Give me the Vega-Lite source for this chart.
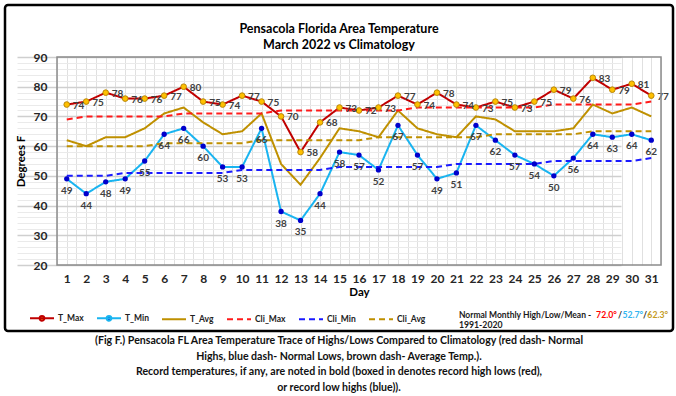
{
  "$schema": "https://vega.github.io/schema/vega-lite/v6.json",
  "padding": {"left": 3, "top": 3, "right": 0, "bottom": 0},
  "background": "white",
  "title": {
    "text": [
      "(Fig F.) Pensacola FL Area Temperature Trace of Highs/Lows Compared to Climatology (red dash- Normal",
      "Highs, blue dash- Normal Lows, brown dash- Average Temp.).",
      "Record temperatures, if any, are noted in bold (boxed in denotes record high lows (red),",
      "or record low highs (blue))."
    ],
    "orient": "bottom",
    "anchor": "middle",
    "font": "Lato",
    "fontSize": 10.6,
    "fontWeight": "bold",
    "lineHeight": 15.5,
    "offset": 4,
    "color": "#111111"
  },
  "datasets": {
    "temps": [
      {"day": 1, "T_Max": 74, "T_Min": 49, "T_Avg": 62, "Cli_Max": 69, "Cli_Min": 50, "Cli_Avg": 60},
      {"day": 2, "T_Max": 75, "T_Min": 44, "T_Avg": 60, "Cli_Max": 70, "Cli_Min": 50, "Cli_Avg": 60},
      {"day": 3, "T_Max": 78, "T_Min": 48, "T_Avg": 63, "Cli_Max": 70, "Cli_Min": 50, "Cli_Avg": 60},
      {"day": 4, "T_Max": 76, "T_Min": 49, "T_Avg": 63, "Cli_Max": 70, "Cli_Min": 51, "Cli_Avg": 60},
      {"day": 5, "T_Max": 76, "T_Min": 55, "T_Avg": 66, "Cli_Max": 70, "Cli_Min": 51, "Cli_Avg": 60},
      {"day": 6, "T_Max": 77, "T_Min": 64, "T_Avg": 71, "Cli_Max": 70, "Cli_Min": 51, "Cli_Avg": 61},
      {"day": 7, "T_Max": 80, "T_Min": 66, "T_Avg": 73, "Cli_Max": 71, "Cli_Min": 51, "Cli_Avg": 61},
      {"day": 8, "T_Max": 75, "T_Min": 60, "T_Avg": 68, "Cli_Max": 71, "Cli_Min": 51, "Cli_Avg": 61},
      {"day": 9, "T_Max": 74, "T_Min": 53, "T_Avg": 64, "Cli_Max": 71, "Cli_Min": 51, "Cli_Avg": 61},
      {"day": 10, "T_Max": 77, "T_Min": 53, "T_Avg": 65, "Cli_Max": 71, "Cli_Min": 52, "Cli_Avg": 61},
      {"day": 11, "T_Max": 75, "T_Min": 66, "T_Avg": 71, "Cli_Max": 71, "Cli_Min": 52, "Cli_Avg": 62},
      {"day": 12, "T_Max": 70, "T_Min": 38, "T_Avg": 54, "Cli_Max": 72, "Cli_Min": 52, "Cli_Avg": 62},
      {"day": 13, "T_Max": 58, "T_Min": 35, "T_Avg": 47, "Cli_Max": 72, "Cli_Min": 52, "Cli_Avg": 62},
      {"day": 14, "T_Max": 68, "T_Min": 44, "T_Avg": 56, "Cli_Max": 72, "Cli_Min": 52, "Cli_Avg": 62},
      {"day": 15, "T_Max": 73, "T_Min": 58, "T_Avg": 66, "Cli_Max": 72, "Cli_Min": 53, "Cli_Avg": 62},
      {"day": 16, "T_Max": 72, "T_Min": 57, "T_Avg": 65, "Cli_Max": 72, "Cli_Min": 53, "Cli_Avg": 62},
      {"day": 17, "T_Max": 73, "T_Min": 52, "T_Avg": 63, "Cli_Max": 72, "Cli_Min": 53, "Cli_Avg": 63},
      {"day": 18, "T_Max": 77, "T_Min": 67, "T_Avg": 72, "Cli_Max": 72, "Cli_Min": 53, "Cli_Avg": 63},
      {"day": 19, "T_Max": 74, "T_Min": 57, "T_Avg": 66, "Cli_Max": 73, "Cli_Min": 53, "Cli_Avg": 63},
      {"day": 20, "T_Max": 78, "T_Min": 49, "T_Avg": 64, "Cli_Max": 73, "Cli_Min": 53, "Cli_Avg": 63},
      {"day": 21, "T_Max": 74, "T_Min": 51, "T_Avg": 63, "Cli_Max": 73, "Cli_Min": 54, "Cli_Avg": 63},
      {"day": 22, "T_Max": 73, "T_Min": 67, "T_Avg": 70, "Cli_Max": 73, "Cli_Min": 54, "Cli_Avg": 63},
      {"day": 23, "T_Max": 75, "T_Min": 62, "T_Avg": 69, "Cli_Max": 73, "Cli_Min": 54, "Cli_Avg": 64},
      {"day": 24, "T_Max": 73, "T_Min": 57, "T_Avg": 65, "Cli_Max": 73, "Cli_Min": 54, "Cli_Avg": 64},
      {"day": 25, "T_Max": 75, "T_Min": 54, "T_Avg": 65, "Cli_Max": 73, "Cli_Min": 54, "Cli_Avg": 64},
      {"day": 26, "T_Max": 79, "T_Min": 50, "T_Avg": 65, "Cli_Max": 74, "Cli_Min": 55, "Cli_Avg": 64},
      {"day": 27, "T_Max": 76, "T_Min": 56, "T_Avg": 66, "Cli_Max": 74, "Cli_Min": 55, "Cli_Avg": 64},
      {"day": 28, "T_Max": 83, "T_Min": 64, "T_Avg": 74, "Cli_Max": 74, "Cli_Min": 55, "Cli_Avg": 65},
      {"day": 29, "T_Max": 79, "T_Min": 63, "T_Avg": 71, "Cli_Max": 74, "Cli_Min": 55, "Cli_Avg": 65},
      {"day": 30, "T_Max": 81, "T_Min": 64, "T_Avg": 73, "Cli_Max": 74, "Cli_Min": 55, "Cli_Avg": 65},
      {"day": 31, "T_Max": 77, "T_Min": 62, "T_Avg": 70, "Cli_Max": 75, "Cli_Min": 56, "Cli_Avg": 65}
    ]
  },
  "vconcat": [
    {
      "width": 668,
      "height": 326,
      "title": {
        "text": ["Pensacola Florida Area Temperature", "March 2022 vs Climatology"],
        "orient": "top",
        "anchor": "middle",
        "frame": "group",
        "offset": -46,
        "font": "Lato",
        "fontSize": 12.5,
        "fontWeight": "bold",
        "lineHeight": 15.5,
        "color": "#000000"
      },
      "resolve": {"axis": {"x": "independent", "y": "independent"}},
      "layer": [
        {
          "data": {"name": "temps"},
          "mark": {"type": "point", "opacity": 0},
          "encoding": {
            "x": {
              "field": "day", "type": "quantitative",
              "scale": {"domain": [0.5, 31.5], "range": [52, 656], "nice": false, "zero": false},
              "axis": {
                "orient": "top",
                "values": [0.5,1,1.5,2,2.5,3,3.5,4,4.5,5,5.5,6,6.5,7,7.5,8,8.5,9,9.5,10,10.5,11,11.5,12,12.5,13,13.5,14,14.5,15,15.5,16,16.5,17,17.5,18,18.5,19,19.5,20,20.5,21,21.5,22,22.5,23,23.5,24,24.5,25,25.5,26,26.5,27,27.5,28,28.5,29,29.5,30,30.5,31,31.5],
                "labels": false, "domain": false, "ticks": false, "title": null,
                "grid": true, "gridColor": "#e0e0e0", "gridWidth": 1
              }
            },
            "y": {
              "field": "T_Max", "type": "quantitative",
              "scale": {"domain": [20, 90], "range": [260, 52], "nice": false, "zero": false},
              "axis": {
                "orient": "right",
                "values": [20,22,24,26,28,30,32,34,36,38,40,42,44,46,48,50,52,54,56,58,60,62,64,66,68,70,72,74,76,78,80,82,84,86,88,90],
                "labels": false, "domain": false, "ticks": false, "title": null,
                "grid": true,
                "gridColor": {"condition": {"test": "datum.value % 10 === 0", "value": "#cfcfcf"}, "value": "#eaeaea"},
                "gridWidth": {"condition": {"test": "datum.value % 10 === 0", "value": 1.5}, "value": 1}
              }
            }
          }
        },
        {
          "data": {"name": "temps"},
          "transform": [{"fold": ["T_Max", "T_Min", "T_Avg", "Cli_Max", "Cli_Min", "Cli_Avg"], "as": ["series", "temp"]}],
          "mark": {"type": "line", "strokeWidth": 2},
          "encoding": {
            "x": {
              "field": "day", "type": "quantitative",
              "scale": {"domain": [0.5, 31.5], "range": [52, 656], "nice": false, "zero": false},
              "axis": {
                "orient": "bottom", "offset": -66,
                "values": [1,2,3,4,5,6,7,8,9,10,11,12,13,14,15,16,17,18,19,20,21,22,23,24,25,26,27,28,29,30,31],
                "format": "d",
                "labelOverlap": false, "labelFlush": false, "labelBound": false,
                "domain": false, "ticks": false, "tickSize": 0, "grid": false,
                "labelPadding": 8,
                "labelFont": "Lato", "labelFontSize": 12, "labelFontWeight": "bold", "labelColor": "#262626",
                "title": "Day", "titleFont": "Lato", "titleFontSize": 11.5, "titleFontWeight": "bold", "titleColor": "#000000", "titlePadding": 2
              }
            },
            "y": {
              "field": "temp", "type": "quantitative",
              "scale": {"domain": [20, 90], "range": [260, 52], "nice": false, "zero": false},
              "axis": {
                "orient": "left", "offset": -52,
                "values": [20,30,40,50,60,70,80,90],
                "labelOverlap": false, "labelFlush": false, "labelBound": false,
                "domain": false, "ticks": false, "tickSize": 0, "grid": false,
                "labelPadding": 10,
                "labelFont": "Lato", "labelFontSize": 12, "labelFontWeight": "bold", "labelColor": "#262626",
                "title": "Degrees F", "titleFont": "Lato", "titleFontSize": 11.5, "titleFontWeight": "bold", "titleColor": "#000000", "titlePadding": 7
              }
            },
            "color": {
              "field": "series", "type": "nominal",
              "scale": {"domain": ["T_Max", "T_Min", "T_Avg", "Cli_Max", "Cli_Min", "Cli_Avg"], "range": ["#C00000", "#19B4F0", "#BF9000", "#FF1A1A", "#1A1AFF", "#BF9000"]},
              "legend": {
                "title": null, "orient": "none", "legendX": 24, "legendY": 300,
                "direction": "horizontal", "columns": 6, "columnPadding": 9,
                "symbolType": "stroke", "symbolSize": 576, "symbolStrokeWidth": 2,
                "labelFont": "Lato", "labelFontSize": 8.5, "labelFontWeight": "bold", "labelColor": "#222222", "labelOffset": 3,
                "padding": 0,
                "encode": {
                  "symbols": {
                    "update": {
                      "shape": {"signal": "datum.value === 'T_Max' || datum.value === 'T_Min' ? 'M-1,0L1,0M0.2,0A0.2,0.2,0,1,1,-0.2,0A0.2,0.2,0,1,1,0.2,0Z' : 'stroke'"},
                      "fill": {"signal": "datum.value === 'T_Max' ? '#FFC000' : datum.value === 'T_Min' ? '#0000CC' : 'transparent'"}
                    }
                  }
                }
              }
            },
            "strokeDash": {
              "field": "series", "type": "nominal",
              "scale": {"domain": ["T_Max", "T_Min", "T_Avg", "Cli_Max", "Cli_Min", "Cli_Avg"], "range": [[1, 0], [1, 0], [1, 0], [6, 4], [6, 4], [6, 4]]},
              "legend": {
                "title": null, "orient": "none", "legendX": 24, "legendY": 300,
                "direction": "horizontal", "columns": 6, "columnPadding": 9,
                "symbolType": "stroke", "symbolSize": 576, "symbolStrokeWidth": 2,
                "labelFont": "Lato", "labelFontSize": 8.5, "labelFontWeight": "bold", "labelColor": "#222222", "labelOffset": 3,
                "padding": 0
              }
            }
          }
        },
        {
          "data": {"name": "temps"},
          "mark": {"type": "point", "filled": true, "fill": "#FFC000", "stroke": "#B8860B", "strokeWidth": 1, "size": 32, "opacity": 1},
          "encoding": {
            "x": {"field": "day", "type": "quantitative", "axis": null},
            "y": {"field": "T_Max", "type": "quantitative", "axis": null}
          }
        },
        {
          "data": {"name": "temps"},
          "mark": {"type": "circle", "color": "#0000CC", "size": 28, "opacity": 1},
          "encoding": {
            "x": {"field": "day", "type": "quantitative", "axis": null},
            "y": {"field": "T_Min", "type": "quantitative", "axis": null}
          }
        },
        {
          "data": {"name": "temps"},
          "mark": {"type": "text", "align": "left", "baseline": "middle", "dx": 6, "dy": 1, "font": "Lato", "fontSize": 10, "fontWeight": "bold", "color": "#404040"},
          "encoding": {
            "x": {"field": "day", "type": "quantitative", "axis": null},
            "y": {"field": "T_Max", "type": "quantitative", "axis": null},
            "text": {"field": "T_Max", "type": "quantitative"}
          }
        },
        {
          "data": {"name": "temps"},
          "mark": {"type": "text", "align": "center", "baseline": "middle", "dy": 12, "font": "Lato", "fontSize": 10, "fontWeight": "bold", "color": "#404040"},
          "encoding": {
            "x": {"field": "day", "type": "quantitative", "axis": null},
            "y": {"field": "T_Min", "type": "quantitative", "axis": null},
            "text": {"field": "T_Min", "type": "quantitative"}
          }
        },
        {
          "data": {"values": [{"box": "plot"}]},
          "mark": {"type": "rect", "fillOpacity": 0, "stroke": "#8c8c8c", "strokeWidth": 1.5},
          "encoding": {
            "x": {"datum": 0.5, "type": "quantitative", "axis": null},
            "x2": {"datum": 31.5},
            "y": {"datum": 20, "type": "quantitative", "axis": null},
            "y2": {"datum": 90}
          }
        },
        {
          "data": {"values": [{"txt": "Normal Monthly High/Low/Mean - "}]},
          "mark": {"type": "text", "align": "left", "baseline": "middle", "font": "Lato", "fontSize": 8.5, "fontWeight": "bold", "color": "#1a1a1a"},
          "encoding": {"x": {"datum": 21.13, "axis": null}, "y": {"datum": 3.2, "axis": null}, "text": {"field": "txt"}}
        },
        {
          "data": {"values": [{"txt": "72.0°"}]},
          "mark": {"type": "text", "align": "left", "baseline": "middle", "font": "Lato", "fontSize": 8.7, "fontWeight": "bold", "color": "#FF0000"},
          "encoding": {"x": {"datum": 28.17, "axis": null}, "y": {"datum": 3.2, "axis": null}, "text": {"field": "txt"}}
        },
        {
          "data": {"values": [{"txt": "/"}]},
          "mark": {"type": "text", "align": "left", "baseline": "middle", "font": "Lato", "fontSize": 8.7, "fontWeight": "bold", "color": "#1a1a1a"},
          "encoding": {"x": {"datum": 29.29, "axis": null}, "y": {"datum": 3.2, "axis": null}, "text": {"field": "txt"}}
        },
        {
          "data": {"values": [{"txt": "52.7°"}]},
          "mark": {"type": "text", "align": "left", "baseline": "middle", "font": "Lato", "fontSize": 8.7, "fontWeight": "bold", "color": "#33B5F0"},
          "encoding": {"x": {"datum": 29.52, "axis": null}, "y": {"datum": 3.2, "axis": null}, "text": {"field": "txt"}}
        },
        {
          "data": {"values": [{"txt": "/"}]},
          "mark": {"type": "text", "align": "left", "baseline": "middle", "font": "Lato", "fontSize": 8.7, "fontWeight": "bold", "color": "#1a1a1a"},
          "encoding": {"x": {"datum": 30.57, "axis": null}, "y": {"datum": 3.2, "axis": null}, "text": {"field": "txt"}}
        },
        {
          "data": {"values": [{"txt": "62.3°"}]},
          "mark": {"type": "text", "align": "left", "baseline": "middle", "font": "Lato", "fontSize": 8.7, "fontWeight": "bold", "color": "#C49A1C"},
          "encoding": {"x": {"datum": 30.8, "axis": null}, "y": {"datum": 3.2, "axis": null}, "text": {"field": "txt"}}
        },
        {
          "data": {"values": [{"txt": "1991-2020"}]},
          "mark": {"type": "text", "align": "left", "baseline": "middle", "font": "Lato", "fontSize": 8.7, "fontWeight": "bold", "color": "#1a1a1a"},
          "encoding": {"x": {"datum": 21.13, "axis": null}, "y": {"datum": -0.2, "axis": null}, "text": {"field": "txt"}}
        }
      ]
    }
  ],
  "config": {
    "view": {"stroke": "#000000", "strokeWidth": 2.5, "cornerRadius": 3},
    "font": "Lato"
  }
}
